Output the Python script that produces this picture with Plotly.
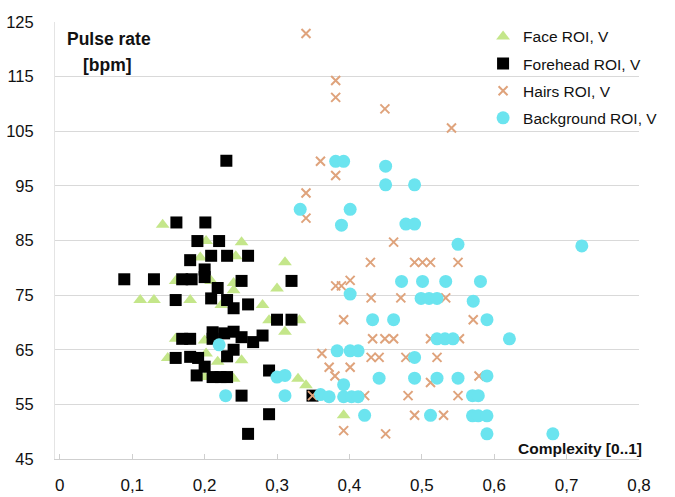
import plotly.graph_objects as go

# Complexity vs. pulse rate, four regions of interest (V channel)
face_x = [0.142, 0.202, 0.251, 0.194, 0.243, 0.311, 0.160, 0.209, 0.240, 0.240,
          0.300, 0.111, 0.130, 0.180, 0.223, 0.280, 0.289, 0.331, 0.311, 0.160,
          0.200, 0.149, 0.202, 0.218, 0.251, 0.200, 0.240, 0.329, 0.340, 0.392]
face_y = [87.9, 84.9, 84.7, 81.9, 82.1, 81.0, 77.6, 77.6, 77.2, 75.9,
          76.2, 74.1, 74.1, 74.1, 73.2, 73.2, 70.4, 70.4, 68.3, 67.0,
          66.7, 63.5, 64.3, 62.8, 63.1, 60.0, 59.7, 59.7, 58.5, 53.0]

forehead_x = [0.161, 0.201, 0.190, 0.220, 0.180, 0.209, 0.231, 0.260, 0.200, 0.200,
              0.089, 0.130, 0.169, 0.182, 0.218, 0.251, 0.320, 0.160, 0.209, 0.231,
              0.240, 0.260, 0.300, 0.320, 0.169, 0.180, 0.211, 0.211, 0.227, 0.240,
              0.251, 0.267, 0.280, 0.240, 0.231, 0.160, 0.180, 0.191, 0.200, 0.189,
              0.211, 0.222, 0.231, 0.289, 0.251, 0.349, 0.289, 0.260, 0.230]
forehead_y = [88.3, 88.3, 84.9, 84.9, 81.4, 82.2, 82.2, 82.2, 79.7, 78.3,
              77.9, 77.9, 77.9, 77.9, 76.3, 77.6, 77.6, 74.1, 74.4, 74.1,
              72.6, 73.3, 70.5, 70.5, 67.0, 67.0, 68.2, 67.0, 68.0, 68.3,
              67.3, 66.4, 67.6, 65.0, 63.8, 63.5, 63.7, 63.5, 61.9, 60.3,
              60.0, 60.0, 60.0, 61.2, 56.6, 56.6, 53.2, 49.6, 99.6]

hairs_x = [0.340, 0.381, 0.381, 0.449, 0.541, 0.360, 0.381, 0.340, 0.340, 0.461,
           0.429, 0.490, 0.501, 0.512, 0.550, 0.381, 0.389, 0.401, 0.430, 0.471,
           0.533, 0.392, 0.571, 0.432, 0.449, 0.461, 0.512, 0.552, 0.362, 0.430,
           0.441, 0.478, 0.521, 0.372, 0.401, 0.380, 0.579, 0.512, 0.349, 0.421,
           0.481, 0.550, 0.490, 0.530, 0.392, 0.450]
hairs_y = [122.9, 114.3, 111.2, 109.1, 105.6, 99.5, 96.9, 93.7, 89.1, 84.7,
           81.0, 81.0, 81.0, 81.0, 81.0, 76.7, 76.7, 77.7, 74.5, 74.5,
           74.5, 70.5, 70.5, 67.0, 67.0, 67.0, 67.0, 67.0, 64.3, 63.6,
           63.6, 63.6, 63.6, 61.8, 61.8, 60.2, 60.2, 59.0, 56.6, 56.6,
           56.6, 56.6, 53.0, 53.0, 50.2, 49.6]

background_x = [0.381, 0.392, 0.450, 0.450, 0.490, 0.332, 0.401, 0.389, 0.478, 0.490,
                0.550, 0.721, 0.472, 0.501, 0.533, 0.581, 0.401, 0.499, 0.510, 0.521,
                0.571, 0.432, 0.461, 0.590, 0.521, 0.532, 0.543, 0.621, 0.220, 0.383,
                0.401, 0.412, 0.490, 0.300, 0.311, 0.441, 0.490, 0.521, 0.550, 0.590,
                0.392, 0.229, 0.311, 0.360, 0.372, 0.392, 0.403, 0.412, 0.570, 0.578,
                0.421, 0.512, 0.570, 0.578, 0.590, 0.590, 0.681]
background_y = [99.5, 99.5, 98.6, 95.2, 95.2, 90.7, 90.7, 87.8, 88.0, 88.0,
                84.3, 84.0, 77.5, 77.5, 77.5, 77.5, 75.2, 74.4, 74.4, 74.4,
                73.9, 70.5, 70.5, 70.5, 67.0, 67.0, 67.0, 67.0, 65.9, 64.8,
                64.8, 64.8, 63.6, 60.0, 60.3, 59.8, 59.8, 59.8, 59.8, 60.2,
                58.6, 56.6, 56.6, 56.8, 56.4, 56.4, 56.4, 56.4, 56.6, 56.6,
                53.0, 53.0, 52.9, 52.9, 52.9, 49.6, 49.6]

x_ticks = [0, 0.1, 0.2, 0.3, 0.4, 0.5, 0.6, 0.7, 0.8]
x_tick_text = ["0", "0,1", "0,2", "0,3", "0,4", "0,5", "0,6", "0,7", "0,8"]
y_ticks = [45, 55, 65, 75, 85, 95, 105, 115, 125]

FONT = "Liberation Sans, Arial, sans-serif"

fig = go.Figure()
fig.add_trace(go.Scatter(
    x=face_x, y=face_y, mode="markers", name="Face ROI, V", legendgroup="a",
    marker=dict(symbol="triangle-up", size=12, color="#c4e68a", line=dict(width=0))))
fig.add_trace(go.Scatter(
    x=forehead_x, y=forehead_y, mode="markers", name="Forehead ROI, V", legendgroup="b",
    marker=dict(symbol="square", size=12, color="#000000", line=dict(width=0))))
fig.add_trace(go.Scatter(
    x=hairs_x, y=hairs_y, mode="markers", name="Hairs ROI, V", legendgroup="c",
    marker=dict(symbol="x-thin", size=9, color="#dfa37c", line=dict(width=2, color="#dfa37c"))))
fig.add_trace(go.Scatter(
    x=background_x, y=background_y, mode="markers", name="Background ROI, V", legendgroup="d",
    marker=dict(symbol="circle", size=13, color="#6be4ef", line=dict(width=0))))

fig.update_layout(
    width=675, height=497,
    margin=dict(l=55, r=14, t=22, b=38),
    paper_bgcolor="white", plot_bgcolor="white",
    font=dict(family=FONT, size=16, color="#111111"),
    showlegend=True,
    legend=dict(x=0.733, y=1.005, xanchor="left", yanchor="top",
                bgcolor="rgba(0,0,0,0)", borderwidth=0,
                font=dict(family=FONT, size=15.5, color="#111111"),
                tracegroupgap=4, itemwidth=30),
    xaxis=dict(range=[-0.0067, 0.8], tickmode="array", tickvals=x_ticks, ticktext=x_tick_text,
               showgrid=False, zeroline=False, showline=True, linecolor="#cfcfcf", linewidth=1,
               ticks="inside", ticklen=5, tickcolor="#cfcfcf", automargin=False,
               tickfont=dict(family=FONT, size=17), ticklabelstandoff=11),
    yaxis=dict(range=[45, 125], tickmode="array", tickvals=y_ticks,
               showgrid=True, gridcolor="#d9d9d9", gridwidth=1, zeroline=False,
               showline=True, linecolor="#e4e4e4", linewidth=1, automargin=False,
               ticks="", tickfont=dict(family=FONT, size=16.5), ticklabelstandoff=17),
    annotations=[
        dict(text="<b>Pulse rate</b>", xref="paper", yref="paper", x=0.0165, y=0.96,
             xanchor="left", yanchor="middle", showarrow=False,
             font=dict(family=FONT, size=17.5, color="#111111")),
        dict(text="<b>[bpm]</b>", xref="paper", yref="paper", x=0.0446, y=0.9016,
             xanchor="left", yanchor="middle", showarrow=False,
             font=dict(family=FONT, size=17.5, color="#111111")),
        dict(text="<b>Complexity [0..1]</b>", xref="paper", yref="paper", x=1.008, y=0.025,
             xanchor="right", yanchor="middle", showarrow=False,
             font=dict(family=FONT, size=15.5, color="#111111")),
    ],
)

fig.write_html("out.html")
